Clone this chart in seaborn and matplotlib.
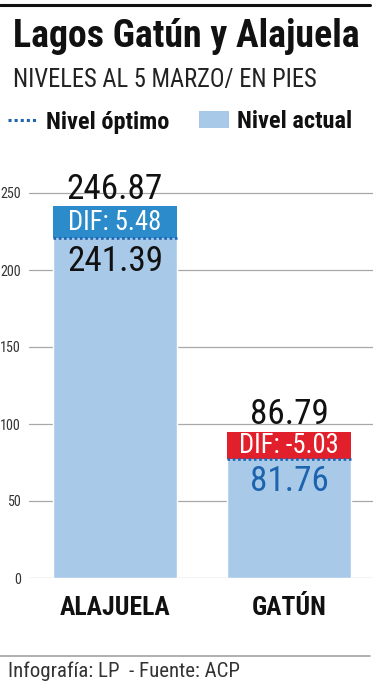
import matplotlib
matplotlib.use('Agg')
import matplotlib.pyplot as plt
import matplotlib.font_manager as fm
from matplotlib.lines import Line2D
from matplotlib.patches import Patch
import seaborn as sns
import numpy as np
import pandas as pd

# ---- data ----
lagos = ['ALAJUELA', 'GATÚN']
nivel_actual = [246.87, 81.76]
nivel_optimo = [241.39, 86.79]
y_ticks = [0, 50, 100, 150, 200, 250]

title = 'Lagos Gatún y Alajuela'
subtitle = 'NIVELES AL 5 MARZO/ EN PIES'
legend_labels = ['Nivel óptimo', 'Nivel actual']
footer = 'Infografía: LP  - Fuente: ACP'

# layout of the DIF label boxes (data units, drawn as annotation boxes)
DIF_BOX_BOTTOM = [220.5, 77.3]
DIF_BOX_TOP = [241.4, 95.0]

LIGHT = '#a8cae8'
BLUE_BOX = '#2b8bcb'
RED_BOX = '#e2202b'
DOT = '#1e64b0'
BLUE_TXT = '#1c64ae'

sns.set_theme(style='white')

# pick the narrowest installed sans family
ttf = fm.fontManager.ttflist
names = {f.name for f in ttf}
STRETCH = 'normal'
MAIN = None
for cand in ['Roboto Condensed', 'Liberation Sans Narrow', 'Open Sans Condensed',
             'Noto Sans Condensed', 'DejaVu Sans Condensed', 'Arial Narrow']:
    if cand in names:
        MAIN = cand
        break
if MAIN is None:
    for f in ttf:
        if f.stretch in ('condensed', 'semi-condensed', 'extra-condensed') and f.name in (
                'Roboto', 'Noto Sans', 'Open Sans', 'DejaVu Sans', 'Liberation Sans'):
            MAIN = f.name
            STRETCH = 'condensed'
            break
if MAIN is None:
    MAIN = 'Roboto' if 'Roboto' in names else 'Liberation Sans'
FAM = [MAIN, 'DejaVu Sans']
plt.rcParams['font.family'] = FAM
plt.rcParams['font.stretch'] = STRETCH

W, H = 375, 699
fig = plt.figure(figsize=(W / 100, H / 100), dpi=100)
renderer = fig.canvas.get_renderer()


def fy(px):
    return 1 - px / H


def fit(s, target_px, weight='normal', base=20.0):
    t = fig.text(0, 0.5, s, fontsize=base, fontweight=weight, fontstretch=STRETCH)
    w = t.get_window_extent(renderer).width
    t.remove()
    return base * target_px / w


ax = fig.add_axes([29 / W, (H - 578) / H, (373 - 29) / W, (578 - 160) / H])

base = np.minimum(nivel_actual, nivel_optimo)
df = pd.DataFrame({'lago': lagos, 'base': base})
sns.barplot(data=df, x='lago', y='base', color=LIGHT, saturation=1,
            width=0.713, errorbar=None, ax=ax, zorder=2)

tick_fs = fit('250', 21)
cat_fs = fit('ALAJUELA', 110, 'bold')
val_fs = fit('246.87', 96)
dif_fs = fit('DIF: -5.03', 100)

ax.set_xlim(-0.494, 1.483)
ax.set_ylim(0, 418 / 1.54)
ax.set_yticks(y_ticks)
ax.set_yticklabels([str(t) for t in y_ticks])
ax.set_xlabel('')
ax.set_ylabel('')
for s in ax.spines.values():
    s.set_visible(False)
ax.yaxis.grid(True, color='#a8a8a8', lw=0.9)
ax.set_axisbelow(True)
ax.tick_params(axis='y', length=0, pad=6, labelsize=tick_fs, labelcolor='#333333')
ax.tick_params(axis='x', length=0, pad=13, labelsize=cat_fs, labelcolor='#111111')
for lab in ax.get_xticklabels():
    lab.set_fontweight('bold')

dif = [a - o for a, o in zip(nivel_actual, nivel_optimo)]
bars = ax.patches[:len(lagos)]
for i, p in enumerate(bars):
    x0, w = p.get_x(), p.get_width()
    xc = x0 + w / 2
    b, t = DIF_BOX_BOTTOM[i], DIF_BOX_TOP[i]
    ax.bar(xc, t - b, bottom=b, width=w, color=BLUE_BOX if dif[i] >= 0 else RED_BOX,
           zorder=3, linewidth=0)
    ax.hlines(b, x0, x0 + w, colors=DOT, lw=1.9, linestyles=(0, (1, 1)), zorder=4)
    upper = max(nivel_actual[i], nivel_optimo[i])
    lower = min(nivel_actual[i], nivel_optimo[i])
    lower_is_actual = nivel_actual[i] < nivel_optimo[i]
    ax.annotate(f'{upper:.2f}', (xc, t), xytext=(0, 5.5), textcoords='offset points',
                ha='center', va='baseline', fontsize=val_fs, color='#111111', zorder=5)
    ax.annotate(f'DIF: {dif[i]:.2f}', (xc, (b + t) / 2), ha='center', va='center',
                fontsize=dif_fs, color='white', zorder=5)
    ax.annotate(f'{lower:.2f}', (xc, b), xytext=(0, -4.5), textcoords='offset points',
                ha='center', va='top', fontsize=val_fs,
                color=BLUE_TXT if lower_is_actual else '#111111', zorder=5)

# header
fig.add_artist(Line2D([0, 370 / W], [fy(5), fy(5)], color='#111111', lw=2.2))
fig.text(13 / W, fy(47), title, fontsize=fit(title, 347, 'bold'), fontweight='bold',
         color='#111111', ha='left', va='baseline')
fig.text(13 / W, fy(87), subtitle, fontsize=fit(subtitle, 304), color='#222222',
         ha='left', va='baseline')

leg_fs = fit(legend_labels[0], 123, 'bold')
px = leg_fs * 100 / 72
handles = [Line2D([], [], color=DOT, lw=2.2, ls=(0, (1, 1))),
           Patch(facecolor=LIGHT, edgecolor='none')]
leg = fig.legend(handles, legend_labels, loc='center left',
                 bbox_to_anchor=(8 / W, fy(122)), ncol=2, frameon=False,
                 borderpad=0, borderaxespad=0, handlelength=30 / px,
                 handleheight=17 / px, handletextpad=8 / px, columnspacing=30 / px,
                 prop={'family': FAM, 'weight': 'bold', 'size': leg_fs,
                       'stretch': STRETCH})
for txt in leg.get_texts():
    txt.set_color('#111111')

# footer
fig.add_artist(Line2D([0, 370 / W], [fy(656), fy(656)], color='#9a9a9a', lw=1.1))
fig.text(8 / W, fy(677), footer, fontsize=fit(footer, 232), color='#333333',
         ha='left', va='baseline')

fig.savefig('out.png', dpi=100)
